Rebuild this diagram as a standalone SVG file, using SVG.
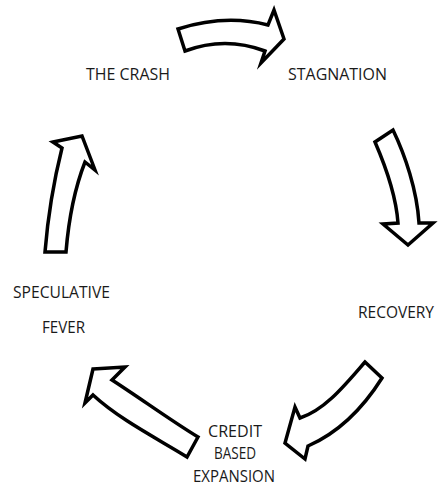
<svg xmlns="http://www.w3.org/2000/svg" width="442" height="487" viewBox="0 0 442 487">
<style>
.arr{fill:#ffffff;stroke:#000;stroke-width:3.5;stroke-linejoin:miter;stroke-miterlimit:6}
.lbl{font-family:"Open Sans","Noto Sans",sans-serif;font-size:17px;fill:#1a1a1a}
</style>
<rect width="442" height="487" fill="#fff"/>
<g id="connectors">
<path id="a-top" class="arr" d="M178,29 Q225,14 268,25 L274,10 L284,39 L261,63 L265,51 Q225,36 185,51 Z"/>
<path id="a-right" class="arr" d="M375,142 C385,165 396,195 398,223 L383,224 L408,245 L433,223 L419,223 C417,190 405,155 393,130 Z"/>
<path id="a-br" class="arr" d="M365,362 C345,385 325,410 300,418 L295,407 L285,443 L305,459 L308,446 C340,432 365,405 382,378 Z"/>
<path id="a-bl" class="arr" d="M93,369 L125,367 L112,380 C140,398 170,420 198,437 L187,457 C160,440 120,420 93,395 L85,403 Z"/>
<path id="a-left" class="arr" d="M53,142 L82,136 L95,170 L85,162 C76,185 69,215 66,252 L45,252 C48,215 54,180 62,148 Z"/>
</g>
<g id="n-crash"><text class="lbl" x="86" y="80" textLength="84" lengthAdjust="spacingAndGlyphs">THE CRASH</text></g>
<g id="n-stagnation"><text class="lbl" x="288" y="80" textLength="99" lengthAdjust="spacingAndGlyphs">STAGNATION</text></g>
<g id="n-recovery"><text class="lbl" x="358" y="318" textLength="76" lengthAdjust="spacingAndGlyphs">RECOVERY</text></g>
<g id="n-credit">
<text class="lbl" x="208" y="437" textLength="54" lengthAdjust="spacingAndGlyphs">CREDIT</text>
<text class="lbl" x="214" y="459" textLength="42" lengthAdjust="spacingAndGlyphs">BASED</text>
<text class="lbl" x="193" y="482" textLength="82" lengthAdjust="spacingAndGlyphs">EXPANSION</text>
</g>
<g id="n-speculative">
<text class="lbl" x="13" y="298" textLength="97" lengthAdjust="spacingAndGlyphs">SPECULATIVE</text>
<text class="lbl" x="42" y="333" textLength="43" lengthAdjust="spacingAndGlyphs">FEVER</text>
</g>
</svg>
